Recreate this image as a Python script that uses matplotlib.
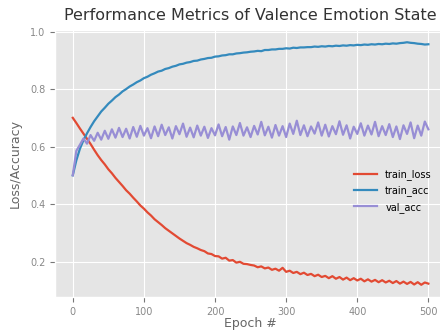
import matplotlib
matplotlib.use('Agg')
import matplotlib.pyplot as plt

epochs = list(range(0, 501, 5))

train_loss = [
    0.700, 0.682, 0.663, 0.645, 0.627, 0.609, 0.589, 0.570, 0.553, 0.538,
    0.521, 0.507, 0.491, 0.477, 0.463, 0.448, 0.436, 0.422, 0.409, 0.395,
    0.384, 0.371, 0.360, 0.347, 0.337, 0.327, 0.316, 0.307, 0.298, 0.289,
    0.280, 0.272, 0.264, 0.258, 0.251, 0.246, 0.240, 0.236, 0.228, 0.226,
    0.219, 0.218, 0.210, 0.213, 0.203, 0.205, 0.196, 0.199, 0.192, 0.191,
    0.188, 0.186, 0.180, 0.183, 0.176, 0.179, 0.171, 0.175, 0.168, 0.178,
    0.164, 0.168, 0.160, 0.164, 0.156, 0.161, 0.153, 0.157, 0.149, 0.154,
    0.146, 0.150, 0.142, 0.149, 0.140, 0.146, 0.137, 0.144, 0.135, 0.142,
    0.134, 0.140, 0.131, 0.138, 0.130, 0.136, 0.128, 0.135, 0.127, 0.133,
    0.125, 0.132, 0.123, 0.130, 0.122, 0.129, 0.120, 0.128, 0.119, 0.127,
    0.123,
]

train_acc = [
    0.500, 0.552, 0.592, 0.622, 0.646, 0.668, 0.688, 0.705, 0.722, 0.735,
    0.749, 0.760, 0.772, 0.781, 0.792, 0.800, 0.809, 0.816, 0.824, 0.830,
    0.838, 0.843, 0.850, 0.855, 0.861, 0.864, 0.870, 0.873, 0.878, 0.881,
    0.886, 0.888, 0.892, 0.894, 0.898, 0.899, 0.903, 0.905, 0.908, 0.909,
    0.913, 0.914, 0.917, 0.918, 0.921, 0.921, 0.924, 0.925, 0.927, 0.928,
    0.930, 0.931, 0.933, 0.932, 0.936, 0.936, 0.938, 0.938, 0.940, 0.940,
    0.942, 0.941, 0.944, 0.943, 0.945, 0.945, 0.946, 0.946, 0.948, 0.947,
    0.949, 0.948, 0.950, 0.949, 0.951, 0.950, 0.952, 0.951, 0.953, 0.952,
    0.954, 0.953, 0.955, 0.954, 0.956, 0.955, 0.957, 0.956, 0.958, 0.957,
    0.959, 0.958, 0.960, 0.961, 0.963, 0.961, 0.960, 0.958, 0.957, 0.955,
    0.956,
]

val_acc = [
    0.500, 0.585, 0.606, 0.628, 0.610, 0.640, 0.620, 0.648, 0.624, 0.655,
    0.627, 0.660, 0.631, 0.665, 0.633, 0.662, 0.628, 0.668, 0.634, 0.672,
    0.638, 0.664, 0.629, 0.670, 0.636, 0.676, 0.640, 0.667, 0.628, 0.671,
    0.643, 0.680, 0.634, 0.666, 0.632, 0.673, 0.638, 0.669, 0.630, 0.664,
    0.639, 0.677, 0.636, 0.668, 0.624, 0.670, 0.640, 0.682, 0.638, 0.667,
    0.633, 0.672, 0.642, 0.686, 0.639, 0.669, 0.631, 0.675, 0.638, 0.671,
    0.633, 0.680, 0.644, 0.690, 0.640, 0.674, 0.636, 0.670, 0.645, 0.684,
    0.638, 0.676, 0.635, 0.671, 0.643, 0.688, 0.641, 0.674, 0.628, 0.669,
    0.644, 0.681, 0.638, 0.673, 0.642, 0.686, 0.636, 0.671, 0.640, 0.678,
    0.633, 0.670, 0.626, 0.674, 0.644, 0.684, 0.629, 0.673, 0.638, 0.687,
    0.660,
]

plt.style.use('ggplot')

fig = plt.figure(figsize=(4.4, 3.31), dpi=100)
ax = fig.add_axes([0.125, 0.103, 0.889, 0.806])

ax.plot(epochs, train_loss, label='train_loss', lw=1.6)
ax.plot(epochs, train_acc, label='train_acc', lw=1.6)
ax.plot(epochs, val_acc, label='val_acc', lw=1.6)

ax.set_title('Performance Metrics of Valence Emotion State', fontsize=11.5,
             color='#333333', pad=7)
ax.set_xlabel('Epoch #', fontsize=9, color='#666666', labelpad=0)
ax.set_ylabel('Loss/Accuracy', fontsize=9, color='#666666', labelpad=6)
ax.tick_params(labelsize=7, colors='#777777')
ax.tick_params(axis='both', labelcolor='#888888')

ax.legend(loc='center left', bbox_to_anchor=(0.785, 0.423),
          bbox_transform=fig.transFigure, frameon=False, fontsize=7,
          handlelength=2.4, labelspacing=0.55)

fig.savefig('out.png', dpi=100)
